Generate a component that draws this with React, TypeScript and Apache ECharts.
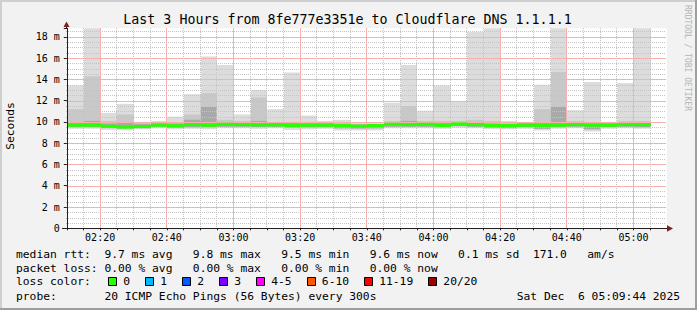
import React, { useEffect, useRef } from "react";
import * as echarts from "echarts";

// ---- data ----
const slotTimes = [
  "02:10", "02:15", "02:20", "02:25", "02:30", "02:35", "02:40", "02:45", "02:50", "02:55",
  "03:00", "03:05", "03:10", "03:15", "03:20", "03:25", "03:30", "03:35", "03:40", "03:45",
  "03:50", "03:55", "04:00", "04:05", "04:10", "04:15", "04:20", "04:25", "04:30", "04:35",
  "04:40", "04:45", "04:50", "04:55", "05:00",
];
// median rtt per 5‑minute slot (ms)
const medianRtt = [
  9.7, 9.7, 9.6, 9.52, 9.57, 9.7, 9.63, 9.75, 9.7, 9.77,
  9.75, 9.73, 9.73, 9.68, 9.7, 9.7, 9.65, 9.6, 9.65, 9.77,
  9.75, 9.77, 9.68, 9.8, 9.75, 9.65, 9.65, 9.7, 9.68, 9.7,
  9.75, 9.7, 9.7, 9.75, 9.75,
];
// smoke (distribution of the 20 pings) per slot (ms)
const smokeMin = [
  9.35, 9.35, 9.25, 9.25, 9.3, 9.4, 9.3, 9.35, 9.3, 9.4,
  9.4, 9.35, 9.4, 9.25, 9.3, 9.35, 9.2, 9.2, 9.2, 9.4,
  9.4, 9.4, 9.35, 9.45, 9.4, 9.3, 9.3, 9.35, 9.2, 9.35,
  9.4, 9.1, 9.35, 9.4, 9.35,
];
const smokeLow = [
  9.5, 9.5, 9.42, 9.4, 9.42, 9.55, 9.45, 9.5, 9.5, 9.55,
  9.55, 9.52, 9.55, 9.45, 9.48, 9.5, 9.4, 9.38, 9.4, 9.55,
  9.55, 9.55, 9.5, 9.6, 9.55, 9.45, 9.42, 9.5, 9.35, 9.5,
  9.55, 9.3, 9.5, 9.55, 9.5,
];
const smokeCore = [
  10.0, 10.1, 9.85, 9.9, 9.8, 9.85, 9.85, 10.2, 11.4, 9.95,
  9.95, 10.1, 9.9, 9.9, 9.85, 9.85, 9.8, 9.75, 9.8, 9.95,
  10.1, 9.95, 9.9, 9.95, 9.95, 9.85, 9.8, 9.85, 9.95, 11.4,
  9.9, 9.85, 9.85, 9.9, 9.95,
];
const smokeHigh = [
  11.2, 14.3, 10.1, 10.7, 9.9, 10.0, 10.0, 10.7, 12.7, 10.2,
  10.1, 12.3, 10.0, 10.0, 10.0, 10.0, 9.9, 9.8, 9.8, 10.1,
  11.5, 10.1, 10.1, 10.1, 10.2, 10.1, 9.9, 9.9, 11.2, 14.7,
  10.1, 10.0, 9.9, 10.1, 10.1,
];
const smokeMax = [
  13.43, 19.0, 10.85, 11.7, 10.0, 10.1, 10.5, 12.6, 16.15, 15.35,
  10.7, 13.0, 11.2, 14.65, 10.6, 10.1, 10.2, 9.9, 9.9, 11.8,
  15.35, 11.05, 13.43, 11.9, 18.45, 19.0, 10.1, 10.0, 13.5, 19.0,
  11.1, 13.75, 10.0, 13.65, 19.0,
];
const xTickLabels = ["02:20", "02:40", "03:00", "03:20", "03:40", "04:00", "04:20", "04:40", "05:00"];
const yTickValues = [0, 2, 4, 6, 8, 10, 12, 14, 16, 18];
const lossLabels = ["0", "1", "2", "3", "4-5", "6-10", "11-19", "20/20"];
const lossColors = ["#26ff00", "#00b8ff", "#0059ff", "#7e00ff", "#ff00ff", "#ff5500", "#ff0000", "#a10000"];

const titleText = "Last 3 Hours from 8fe777e3351e to Cloudflare DNS 1.1.1.1";
const legendRtt = "median rtt:  9.7 ms avg   9.8 ms max   9.5 ms min   9.6 ms now   0.1 ms sd  171.0   am/s";
const legendLoss = "packet loss: 0.00 % avg   0.00 % max   0.00 % min   0.00 % now";
const legendLossColor = "loss color:";
const legendProbe = "probe:       20 ICMP Echo Pings (56 Bytes) every 300s";
const legendDate = "Sat Dec  6 05:09:44 2025";

// ---- layout ----
const MONO = '"DejaVu Sans Mono", "Liberation Mono", monospace';
const SLOT = 5;
const X_MIN = 130;
const X_MAX = 310;
const Y_MAX = 18.8;
const Y_MINOR = 0.5;
const GRID_C = "#c4c4c4";
const MGRID_C = "#f6b0b0";
const LEG_FS = 11.3;
const CW = 6.79;
const PLOT_LEFT = 66.8;

const toMin = (s: string) => {
  const [h, m] = s.split(":").map(Number);
  return h * 60 + m;
};
const fmtMin = (v: number) => {
  const h = Math.floor(v / 60);
  const m = v % 60;
  return `${String(h).padStart(2, "0")}:${String(m).padStart(2, "0")}`;
};
const nb = (s: string) => s.replace(/ /g, "\u00a0");

function buildOption() {
  const smokeData = slotTimes.map((t, i) => [
    toMin(t), smokeMin[i], smokeLow[i], smokeCore[i], smokeHigh[i], smokeMax[i],
  ]);
  const medianData = slotTimes.map((t, i) => [toMin(t), medianRtt[i]]);

  // grid lines: [x, y, orientation(0 vertical / 1 horizontal), major]
  const majorX = xTickLabels.map(toMin);
  const gridData: number[][] = [];
  for (let v = X_MIN + SLOT; v < X_MAX; v += SLOT) gridData.push([v, 0, 0, majorX.includes(v) ? 1 : 0]);
  for (let v = Y_MINOR; v < Y_MAX; v += Y_MINOR) gridData.push([X_MIN, v, 1, yTickValues.includes(v) ? 1 : 0]);
  gridData.sort((a, b) => a[3] - b[3]);

  const graphics: any[] = [];
  const txt = (text: string, x: number, y: number, extra: any = {}) => ({
    type: "text",
    x,
    y,
    silent: true,
    style: {
      text: nb(text),
      fontFamily: MONO,
      fontSize: LEG_FS,
      fill: "#000",
      align: "left",
      verticalAlign: "middle",
      ...(extra.style || {}),
    },
  });

  // frame
  graphics.push({ type: "rect", silent: true, shape: { x: 0, y: 0, width: 697, height: 2 }, style: { fill: "#cfcfcf" } });
  graphics.push({ type: "rect", silent: true, shape: { x: 0, y: 0, width: 2, height: 310 }, style: { fill: "#cfcfcf" } });
  graphics.push({ type: "rect", silent: true, shape: { x: 0, y: 308, width: 697, height: 2 }, style: { fill: "#9e9e9e" } });
  graphics.push({ type: "rect", silent: true, shape: { x: 695, y: 0, width: 2, height: 310 }, style: { fill: "#9e9e9e" } });

  // title
  graphics.push({
    type: "text", x: 347.5, y: 19.3, silent: true,
    style: { text: titleText, fontFamily: MONO, fontSize: 13.3, fill: "#000", align: "center", verticalAlign: "middle" },
  });
  // vertical labels
  graphics.push({
    type: "text", x: 10.5, y: 126, rotation: Math.PI / 2, silent: true,
    style: { text: "Seconds", fontFamily: MONO, fontSize: 11.3, fill: "#000", align: "center", verticalAlign: "middle" },
  });
  graphics.push({
    type: "text", x: 687.5, y: 5, rotation: -Math.PI / 2, silent: true,
    style: { text: "RRDTOOL / TOBI OETIKER", fontFamily: MONO, fontSize: 8, fill: "#b4b4b4", align: "left", verticalAlign: "middle" },
  });

  // arrows & axis extension
  graphics.push({ type: "line", silent: true, z: 10, shape: { x1: 62, y1: 228.5, x2: 67, y2: 228.5 }, style: { stroke: "#1f1f1f", lineWidth: 1 } });
  graphics.push({ type: "line", silent: true, z: 10, shape: { x1: 66.5, y1: 25, x2: 66.5, y2: 29 }, style: { stroke: "#1f1f1f", lineWidth: 1 } });
  graphics.push({ type: "polygon", silent: true, z: 10, shape: { points: [[63.5, 27], [69.5, 27], [66.5, 21.5]] }, style: { fill: "#7f1f1f" } });
  graphics.push({ type: "polygon", silent: true, z: 10, shape: { points: [[667, 225.3], [667, 231.7], [673, 228.5]] }, style: { fill: "#7f1f1f" } });

  // legend
  graphics.push(txt(legendRtt, 16, 254.3));
  graphics.push(txt(legendLoss, 16, 268.3));
  graphics.push(txt(legendLossColor, 16, 281.7));
  let sx = 108.3;
  lossLabels.forEach((lab, i) => {
    graphics.push({
      type: "rect", silent: true,
      shape: { x: Math.round(sx) + 0.5, y: 277.5, width: 8, height: 8 },
      style: { fill: lossColors[i], stroke: "#000", lineWidth: 1 },
    });
    graphics.push(txt(lab, sx + 15, 281.7));
    sx += 15 + lab.length * CW + 15.2;
  });
  graphics.push(txt(legendProbe, 16, 296));
  graphics.push(txt(legendDate, 680, 296, { style: { align: "right" } }));

  return {
    animation: false,
    backgroundColor: "#f2f2f2",
    grid: {
      left: PLOT_LEFT, top: 28.3, width: 600, height: 200,
      show: true, backgroundColor: "#ffffff", borderWidth: 0,
    },
    xAxis: [
      {
        type: "value", min: X_MIN, max: X_MAX, interval: SLOT, z: 6,
        axisLine: { show: true, lineStyle: { color: "#1f1f1f", width: 1 } },
        axisTick: { show: true, length: 2, lineStyle: { color: "#1f1f1f" } },
        axisLabel: {
          margin: 4, fontSize: 10, fontFamily: MONO, color: "#000",
          formatter: (v: number) => {
            const s = fmtMin(v);
            return xTickLabels.includes(s) ? s : "";
          },
        },
        splitLine: { show: false },
      },
    ],
    yAxis: [
      {
        type: "value", min: 0, max: Y_MAX, interval: Y_MINOR, z: 6,
        axisLine: { show: true, lineStyle: { color: "#1f1f1f", width: 1 } },
        axisTick: { show: false },
        axisLabel: {
          margin: 7, fontSize: 10, fontFamily: MONO, color: "#000",
          formatter: (v: number) => (yTickValues.includes(v) ? (v === 0 ? "0" : `${v} m`) : ""),
        },
        splitLine: { show: false },
      },
      {
        type: "value", min: 0, max: Y_MAX, interval: 2, position: "left", z: 6,
        axisLine: { show: false },
        axisTick: { show: true, length: 3, lineStyle: { color: "#1f1f1f" } },
        axisLabel: { show: false },
        splitLine: { show: false },
      },
    ],
    series: [
      {
        type: "custom",
        name: "smoke",
        z: 1,
        data: smokeData,
        encode: { x: 0, y: [1, 2, 3, 4, 5] },
        renderItem: (params: any, api: any) => {
          const cs = params.coordSys;
          const t = api.value(0);
          const x0 = Math.floor(api.coord([t, 0])[0]) + 1;
          const x1 = Math.floor(api.coord([t + SLOT, 0])[0]) + 1;
          const band = (lo: number, hi: number, color: string) => {
            const yTop = Math.max(api.coord([t, hi])[1], cs.y);
            const yBot = api.coord([t, lo])[1];
            return {
              type: "rect",
              shape: { x: x0, y: yTop, width: x1 - x0, height: Math.max(0, yBot - yTop) },
              style: { fill: color },
            };
          };
          return {
            type: "group",
            children: [
              band(api.value(1), api.value(5), "#dcdcdc"),
              band(api.value(2), api.value(4), "#c8c8c8"),
              band(api.value(2), api.value(3), "#a9a9a9"),
            ],
          };
        },
      },
      {
        type: "custom",
        name: "grid",
        z: 2,
        silent: true,
        data: gridData,
        encode: { x: 0, y: 1 },
        renderItem: (params: any, api: any) => {
          const cs = params.coordSys;
          const vertical = api.value(2) === 0;
          const major = api.value(3) === 1;
          const p = api.coord([api.value(0), api.value(1)]);
          const style: any = major
            ? { stroke: MGRID_C, lineWidth: 1 }
            : { stroke: GRID_C, lineWidth: 1, lineDash: [1, 1] };
          const top = Math.round(cs.y);
          const left = Math.floor(cs.x);
          if (vertical) {
            const x = Math.floor(p[0]) + 0.5;
            return { type: "line", shape: { x1: x, y1: top, x2: x, y2: top + cs.height }, style };
          }
          const y = Math.round(p[1]) + 0.5;
          return { type: "line", shape: { x1: left, y1: y, x2: left + cs.width, y2: y }, style };
        },
      },
      {
        type: "custom",
        name: "median rtt",
        z: 3,
        data: medianData,
        encode: { x: 0, y: 1 },
        renderItem: (params: any, api: any) => {
          const t = api.value(0);
          const p0 = api.coord([t, api.value(1)]);
          const x0 = Math.floor(p0[0]) + 1;
          const x1 = Math.floor(api.coord([t + SLOT, 0])[0]) + 1;
          return {
            type: "rect",
            shape: { x: x0, y: p0[1] - 1.6, width: x1 - x0, height: 3.2 },
            style: { fill: lossColors[0] },
          };
        },
      },
    ],
    graphic: graphics,
  };
}

export default function App() {
  const ref = useRef<HTMLDivElement>(null);
  useEffect(() => {
    if (!ref.current) return;
    const chart = echarts.init(ref.current, null, { renderer: "svg", width: 697, height: 310 });
    chart.setOption(buildOption() as any);
    return () => chart.dispose();
  }, []);
  return (
    <div style={{ position: "fixed", left: 0, top: 0, width: 697, height: 310, background: "#f2f2f2" }}>
      <div ref={ref} style={{ width: 697, height: 310 }} />
    </div>
  );
}
